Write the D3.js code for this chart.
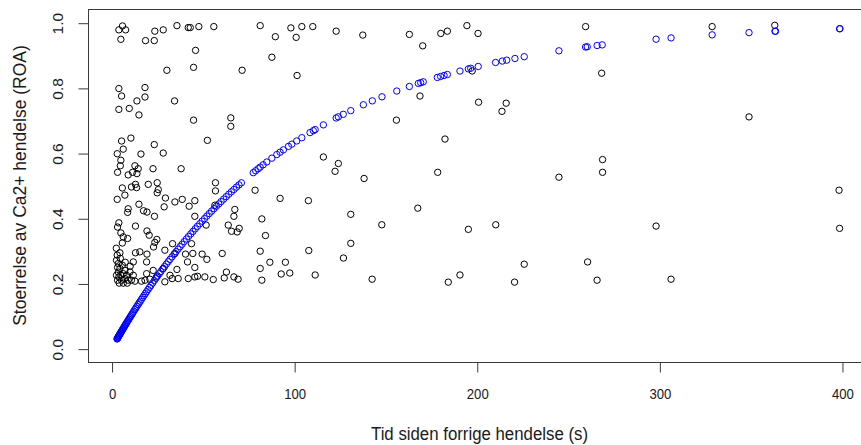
<!DOCTYPE html>
<html>
<head>
<meta charset="utf-8">
<script src="https://cdn.jsdelivr.net/npm/d3@7"></script>
<style>
  html, body { margin: 0; padding: 0; background: #fff; }
  svg { display: block; }
  text { font-family: "Liberation Sans", Arial, sans-serif; fill: #1a1a1a; }
</style>
</head>
<body>
<svg id="chart" width="861" height="445"></svg>
<script>
// ---------- data ----------
const xTicks = [0, 100, 200, 300, 400];
const yTicks = [0.0, 0.2, 0.4, 0.6, 0.8, 1.0];
const yTickLabels = ["0.0", "0.2", "0.4", "0.6", "0.8", "1.0"];
const xTitle = "Tid siden forrige hendelse (s)";
const yTitle = "Stoerrelse av Ca2+ hendelse (ROA)";
const xLimits = [-12.9, 415.9];
const yLimits = [-0.041, 1.042];

// observed events (black circles)
const obsX = [
  4.0, 6.0, 7.7, 5.1, 18.6, 23.4, 23.7, 28.3, 35.8, 42.0, 43.1, 47.8, 56.0, 81.4, 89.7,
  46.0, 44.9, 30.3, 71.5, 87.8, 98.2, 101.1, 104.2, 110.2, 123.0, 137.6, 163.1, 180.3, 183.9, 194.6,
  200.7, 170.4, 101.6, 168.9, 201.0, 216.1, 213.8, 197.5, 156.0, 182.6, 116.0, 124.2, 122.4, 138.3, 178.6,
  245.0, 92.3, 107.8, 259.6, 328.9, 363.2, 268.4, 349.1, 268.9, 268.9, 398.4, 298.2, 398.7, 260.7, 265.9,
  306.4, 82.3, 131.0, 148.0, 167.7, 195.4, 210.4, 84.3, 108.0, 131.0, 127.0, 81.4, 86.7, 95.2, 81.4,
  92.9, 97.6, 111.5, 82.3, 142.7, 184.4, 190.8, 220.7, 226.0,
  4.0, 5.5, 18.3, 18.3, 13.9, 34.5, 4.0, 9.7, 15.0, 44.9, 65.3, 65.3, 52.5, 10.6, 5.5,
  6.4, 3.1, 23.4, 16.1, 28.3, 5.1, 4.8, 3.3, 9.1, 11.5, 12.8, 14.6, 13.9, 22.7, 38.1,
  5.9, 10.9, 13.1, 13.7, 20.1, 25.0, 25.6, 25.0, 7.3, 56.9, 56.9, 78.6, 3.1, 29.5, 38.7,
  45.6, 15.0, 9.1, 8.8, 17.5, 19.4, 23.5, 45.6, 56.6, 67.5, 67.0, 28.8, 34.7, 42.5,
  4.0, 3.3, 13.1, 5.1, 6.4, 5.9, 8.8, 19.4, 20.6, 24.8, 23.7, 23.0, 51.8, 63.9, 65.7,
  68.8, 69.9, 3.1, 4.6, 13.1, 15.5, 19.4, 29.2, 33.4, 43.8, 34.7, 40.5, 41.6, 44.5, 49.6,
  52.2, 60.6, 11.9, 19.2, 35.8, 45.6,
  2.7, 3.7, 3.3, 4.6, 3.7, 2.7, 4.0, 3.3, 5.5, 7.3, 6.4, 8.2, 9.1, 10.9, 12.8,
  7.3, 10.1, 11.9, 5.1, 16.4, 19.2, 18.3, 21.0, 22.8, 24.6, 28.3, 29.2, 32.0, 33.2, 36.5,
  42.0, 45.6, 47.1, 51.1, 55.7, 61.7, 62.9, 67.0, 69.3,
  4.8, 5.9, 7.5, 4.2, 6.4, 8.6, 10.2, 2.6
];
const obsY = [
  0.978, 0.990, 0.978, 0.949, 0.945, 0.945, 0.974, 0.978, 0.991, 0.985, 0.985, 0.988, 0.988, 0.991, 0.957,
  0.915, 0.863, 0.854, 0.854, 0.894, 0.984, 0.955, 0.988, 0.988, 0.974, 0.962, 0.964, 0.967, 0.974, 0.991,
  0.967, 0.929, 0.838, 0.775, 0.756, 0.753, 0.728, 0.852, 0.701, 0.643, 0.588, 0.568, 0.544, 0.522, 0.541,
  0.526, 0.461, 0.454, 0.988, 0.988, 0.992, 0.845, 0.711, 0.580, 0.541, 0.486, 0.376, 0.369, 0.266, 0.210,
  0.213, 0.398, 0.412, 0.380, 0.431, 0.366, 0.380, 0.347, 0.301, 0.323, 0.278, 0.299, 0.265, 0.265, 0.246,
  0.229, 0.232, 0.226, 0.210, 0.213, 0.204, 0.226, 0.204, 0.259,
  0.798, 0.775, 0.801, 0.772, 0.760, 0.760, 0.734, 0.737, 0.717, 0.701, 0.708, 0.682, 0.639, 0.646, 0.637,
  0.612, 0.598, 0.626, 0.597, 0.600, 0.578, 0.561, 0.541, 0.533, 0.541, 0.561, 0.552, 0.537, 0.552, 0.552,
  0.493, 0.496, 0.504, 0.494, 0.504, 0.509, 0.488, 0.478, 0.471, 0.509, 0.484, 0.486, 0.458, 0.462, 0.458,
  0.454, 0.443, 0.429, 0.418, 0.423, 0.419, 0.406, 0.406, 0.440, 0.427, 0.406, 0.435, 0.450, 0.437,
  0.386, 0.373, 0.376, 0.355, 0.343, 0.324, 0.338, 0.361, 0.348, 0.335, 0.326, 0.312, 0.379, 0.379, 0.360,
  0.358, 0.369, 0.287, 0.294, 0.294, 0.297, 0.290, 0.302, 0.322, 0.322, 0.292, 0.290, 0.266, 0.292, 0.290,
  0.274, 0.292, 0.266, 0.266, 0.243, 0.249,
  0.271, 0.261, 0.249, 0.246, 0.235, 0.225, 0.220, 0.210, 0.210, 0.215, 0.230, 0.225, 0.210, 0.210, 0.207,
  0.240, 0.235, 0.225, 0.225, 0.207, 0.230, 0.210, 0.213, 0.240, 0.220, 0.246, 0.205, 0.225, 0.215, 0.215,
  0.215, 0.220, 0.222, 0.220, 0.212, 0.217, 0.235, 0.220, 0.213,
  0.277, 0.256, 0.265, 0.201, 0.201, 0.201, 0.253, 0.308
];

// fitted values (blue circles)
const fitX = [
  3.0, 3.1, 3.3, 3.4, 3.6, 3.8, 3.9, 4.1, 4.3, 4.5, 4.7, 4.9, 5.1, 5.3, 5.5,
  5.8, 6.0, 6.3, 6.5, 6.8, 7.1, 7.4, 7.7, 8.0, 8.4, 8.8, 9.1, 9.5, 9.9, 10.3,
  10.8, 11.2, 11.7, 12.2, 12.8, 13.3, 13.9, 14.5, 15.1, 15.7, 16.4, 17.1, 17.8, 18.5, 19.2,
  20.0, 20.8, 21.6, 22.5, 23.4, 24.3, 25.2, 26.1, 27.0, 28.0, 29.0, 30.0, 31.0, 32.0, 33.1,
  34.2, 35.3, 36.4, 37.5, 38.6, 39.8, 41.0, 42.2, 43.4, 44.6, 45.8, 47.0, 48.3, 49.6, 50.9,
  52.2, 53.5, 54.8, 56.1, 57.4, 58.7, 60.0, 61.4, 62.8, 64.2, 65.6, 67.0, 68.4, 69.8, 71.1,
  77.6, 78.9, 80.3, 81.4, 83.0, 85.0, 87.8, 90.5, 92.3, 94.1, 96.9, 98.7, 101.4, 104.2, 108.7,
  110.5, 111.5, 116.0, 123.0, 124.2, 126.9, 131.0, 137.9, 142.8, 148.1, 156.2, 163.1, 168.0, 169.3, 170.7,
  178.4, 180.2, 182.1, 183.9, 190.8, 195.4, 196.7, 200.8, 210.3, 214.0, 216.4, 220.9, 226.0, 245.0, 259.6,
  260.5, 265.9, 268.7, 298.2, 306.4, 328.9, 349.1, 363.3, 363.6, 398.7, 398.9
];
const fitY = [
  0.0296, 0.0305, 0.0325, 0.0334, 0.0354, 0.0373, 0.0382, 0.0402, 0.0421, 0.0440, 0.0459, 0.0478, 0.0497, 0.0516, 0.0535,
  0.0564, 0.0582, 0.0611, 0.0629, 0.0658, 0.0685, 0.0713, 0.0741, 0.0769, 0.0806, 0.0842, 0.0870, 0.0906, 0.0943, 0.0979,
  0.1024, 0.1060, 0.1104, 0.1149, 0.1201, 0.1245, 0.1298, 0.1350, 0.1402, 0.1453, 0.1513, 0.1572, 0.1631, 0.1689, 0.1747,
  0.1813, 0.1879, 0.1943, 0.2015, 0.2087, 0.2157, 0.2227, 0.2297, 0.2366, 0.2442, 0.2517, 0.2592, 0.2666, 0.2739, 0.2818,
  0.2897, 0.2974, 0.3051, 0.3127, 0.3202, 0.3283, 0.3363, 0.3443, 0.3521, 0.3598, 0.3675, 0.3750, 0.3831, 0.3910, 0.3989,
  0.4067, 0.4144, 0.4219, 0.4294, 0.4368, 0.4439, 0.4512, 0.4588, 0.4662, 0.4738, 0.4811, 0.4883, 0.4954, 0.5024, 0.5088,
  0.5398, 0.5457, 0.5520, 0.5569, 0.5640, 0.5726, 0.5844, 0.5955, 0.6027, 0.6098, 0.6205, 0.6273, 0.6372, 0.6472, 0.6628,
  0.6688, 0.6721, 0.6865, 0.7077, 0.7112, 0.7189, 0.7302, 0.7482, 0.7602, 0.7726, 0.7903, 0.8043, 0.8136, 0.8160, 0.8186,
  0.8320, 0.8350, 0.8381, 0.8410, 0.8516, 0.8583, 0.8601, 0.8657, 0.8779, 0.8823, 0.8851, 0.8902, 0.8956, 0.9137, 0.9254,
  0.9261, 0.9300, 0.9319, 0.9493, 0.9533, 0.9627, 0.9695, 0.9736, 0.9737, 0.9814, 0.9815
];

// ---------- drawing ----------
const svg = d3.select("#chart");
const x = d3.scaleLinear().domain(xLimits).range([88, 871]);
const y = d3.scaleLinear().domain(yLimits).range([362, 9]);
const axisColor = "#3a3a3a";

// plot box
svg.append("rect")
  .attr("x", x(xLimits[0]) + 0.5).attr("y", y(yLimits[1]) + 0.5)
  .attr("width", x(xLimits[1]) - x(xLimits[0]))
  .attr("height", y(yLimits[0]) - y(yLimits[1]))
  .attr("fill", "none").attr("stroke", axisColor).attr("stroke-width", 1);

// x axis
const gx = svg.append("g").attr("transform", `translate(0.5,${y(yLimits[0]) + 0.5})`)
  .call(d3.axisBottom(x).tickValues(xTicks).tickFormat(d3.format("d")).tickSize(10).tickSizeOuter(0));
gx.select(".domain").remove();
gx.selectAll(".tick line").attr("stroke", axisColor);
gx.selectAll(".tick text")
  .attr("y", 36).attr("dy", null)
  .attr("font-size", 15.5)
  .attr("textLength", function () { return 7.3 * this.textContent.length; })
  .attr("lengthAdjust", "spacingAndGlyphs")
  .attr("fill", "#1a1a1a");

// y axis
const gy = svg.append("g").attr("transform", `translate(${x(xLimits[0]) + 0.5},0.5)`)
  .call(d3.axisLeft(y).tickValues(yTicks).tickFormat((d, i) => yTickLabels[i]).tickSize(10).tickSizeOuter(0));
gy.select(".domain").remove();
gy.selectAll(".tick line").attr("stroke", axisColor);
gy.selectAll(".tick text")
  .attr("x", null).attr("dy", null)
  .attr("text-anchor", "middle")
  .attr("transform", "translate(-26,0) rotate(-90)")
  .attr("font-size", 15.5)
  .attr("fill", "#1a1a1a");

// axis titles
svg.append("text")
  .attr("x", (x(xLimits[0]) + x(xLimits[1])) / 2)
  .attr("y", 440)
  .attr("text-anchor", "middle")
  .attr("font-size", 18)
  .attr("textLength", 217).attr("lengthAdjust", "spacingAndGlyphs")
  .text(xTitle);

svg.append("text")
  .attr("transform", `translate(26,${(y(yLimits[0]) + y(yLimits[1])) / 2}) rotate(-90)`)
  .attr("text-anchor", "middle")
  .attr("font-size", 17.5)
  .text(yTitle);

// observed points
const obs = obsX.map((v, i) => ({ x: v, y: obsY[i] }));
svg.append("g").selectAll("circle").data(obs).join("circle")
  .attr("cx", d => x(d.x)).attr("cy", d => y(d.y)).attr("r", 3.2)
  .attr("fill", "none").attr("stroke", "#000").attr("stroke-width", 1);

// fitted points
const fit = fitX.map((v, i) => ({ x: v, y: fitY[i] }));
svg.append("g").selectAll("circle").data(fit).join("circle")
  .attr("cx", d => x(d.x)).attr("cy", d => y(d.y)).attr("r", 3.2)
  .attr("fill", "none").attr("stroke", "#0000ff").attr("stroke-width", 1);
</script>
</body>
</html>
